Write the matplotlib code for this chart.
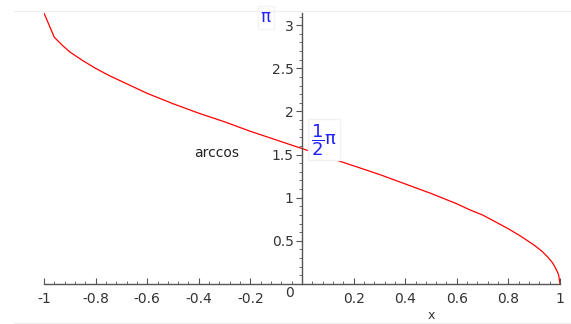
import matplotlib
matplotlib.use("Agg")
import matplotlib.pyplot as plt
from matplotlib.ticker import MultipleLocator

# arccos curve, values
xs = [-1.0, -0.96, -0.93, -0.9, -0.85, -0.8, -0.75, -0.7, -0.65, -0.6, -0.5,
      -0.4, -0.3, -0.2, -0.1, 0.0, 0.1, 0.2, 0.3, 0.4, 0.5, 0.6, 0.65, 0.7,
      0.75, 0.8, 0.85, 0.9, 0.93, 0.95, 0.97, 0.98, 0.99, 0.995, 1.0]
ys = [3.14, 2.86, 2.77, 2.69, 2.59, 2.50, 2.42, 2.35, 2.28, 2.21, 2.09,
      1.98, 1.88, 1.77, 1.67, 1.57, 1.47, 1.37, 1.27, 1.16, 1.05, 0.93, 0.86,
      0.80, 0.72, 0.64, 0.55, 0.45, 0.38, 0.32, 0.25, 0.20, 0.14, 0.10, 0.0]

x_ticks = [-1, -0.8, -0.6, -0.4, -0.2, 0.2, 0.4, 0.6, 0.8, 1]
x_labels = ["-1", "-0.8", "-0.6", "-0.4", "-0.2", "0.2", "0.4", "0.6", "0.8", "1"]
y_ticks = [0.5, 1, 1.5, 2, 2.5, 3]
y_labels = ["0.5", "1", "1.5", "2", "2.5", "3"]

plt.rcParams['font.family'] = ['DejaVu Sans']
plt.rcParams['mathtext.fontset'] = 'dejavusans'

W, H = 571, 324
fig = plt.figure(figsize=(W / 100, H / 100), dpi=100)
x0, x1 = 44, 560   # pixel of x=-1 and x=1
y0, y1 = 284, 13   # pixel of y=0 and y=pi
ax = fig.add_axes([x0 / W, (H - y0) / H, (x1 - x0) / W, (y0 - y1) / H])

ax.plot(xs, ys, color='#ff0000', lw=0.9)
ax.set_xlim(-1, 1)
ax.set_ylim(0, 3.1416)

for s in ['top', 'right']:
    ax.spines[s].set_visible(False)
ax.spines['left'].set_position(('data', 0))
ax.spines['bottom'].set_position(('data', 0))
for s in ['left', 'bottom']:
    ax.spines[s].set_color('#555555')
    ax.spines[s].set_linewidth(1.0)

ax.set_xticks(x_ticks, x_labels)
ax.set_yticks(y_ticks, y_labels)
ax.xaxis.set_minor_locator(MultipleLocator(0.04))
ax.yaxis.set_minor_locator(MultipleLocator(0.1))
ax.tick_params(axis='x', which='both', direction='in', colors='#555555',
               labelcolor='#333333', labelsize=10, pad=6)
ax.tick_params(axis='x', which='major', length=4)
ax.tick_params(axis='x', which='minor', length=2)
ax.tick_params(axis='y', which='both', direction='out', colors='#555555',
               labelcolor='#333333', labelsize=10, pad=2)
ax.tick_params(axis='y', which='major', length=4)
ax.tick_params(axis='y', which='minor', length=2)

ax.text(-0.05, -0.02, "0", ha='center', va='top', fontsize=10, color='#333333')
ax.text(0.5, -0.37, "x", ha='center', va='center', fontsize=9, color='#333333',
        clip_on=False)
ax.text(-0.33, 1.52, "arccos", ha='center', va='center', fontsize=10, color='#222222')
ax.text(-0.14, 3.09, "π", ha='center', va='center', fontsize=12, color='#2020ff',
        clip_on=False, bbox=dict(facecolor='white', edgecolor='#f4f4f4', pad=2))
ax.text(0.035, 1.67, r"$\dfrac{1}{2}$π", ha='left', va='center', fontsize=13,
        color='#2020ff',
        bbox=dict(facecolor='white', edgecolor='#f2f2f2', pad=2))

# faint frame lines of the original window
fig.add_artist(plt.Line2D([14 / W, 1], [1 - 11 / H, 1 - 11 / H], color='#eeeeee', lw=0.8))
fig.add_artist(plt.Line2D([14 / W, 1], [1 / H, 1 / H], color='#eeeeee', lw=0.8))

fig.savefig("out.png", dpi=100)
